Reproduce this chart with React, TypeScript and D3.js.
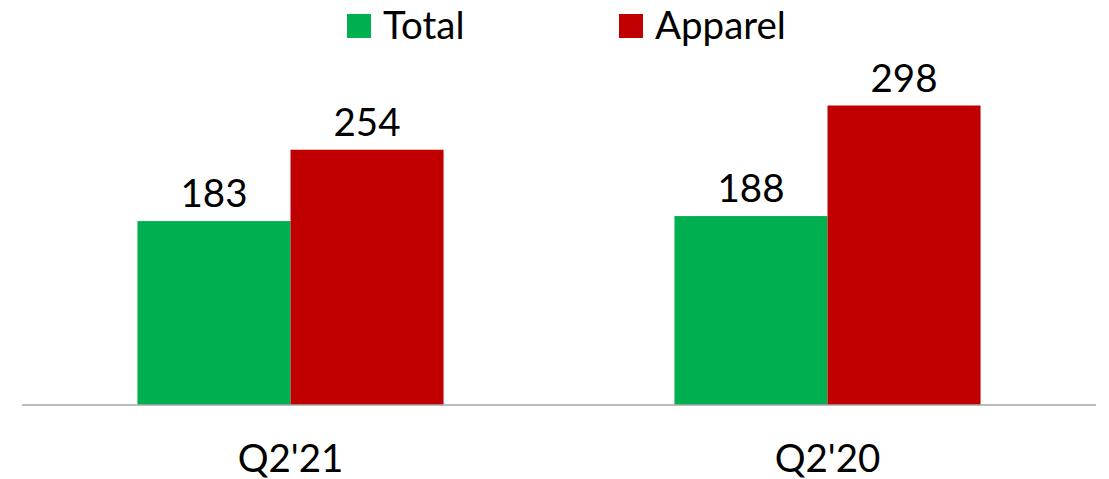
import React from "react";
import * as d3 from "d3";

const categories = ["Q2'21", "Q2'20"];
const seriesNames = ["Total", "Apparel"];
const totalValues = [183, 188];
const apparelValues = [254, 298];
const seriesColors = ["#00B050", "#C00000"];

const W = 1109;
const H = 479;
const FONT = "Lato, 'Open Sans', sans-serif";
const FS = 38.5;

export default function App() {
  const x = d3
    .scaleBand<string>()
    .domain(categories)
    .range([22, 1096])
    .paddingInner(0.43)
    .paddingOuter(0.215);

  const xSub = d3
    .scaleBand<string>()
    .domain(seriesNames)
    .range([0, x.bandwidth()]);

  const y = d3.scaleLinear().domain([0, 400]).range([405, 3]);

  const values = [totalValues, apparelValues];
  // full-width axis line spans the outer range
  const [ax0, ax1] = [22, 1096];

  const legendItems = [
    { name: seriesNames[0], color: seriesColors[0], sq: 347, tx: 383 },
    { name: seriesNames[1], color: seriesColors[1], sq: 619, tx: 655 },
  ];

  return (
    <svg
      width={W}
      height={H}
      style={{ position: "absolute", left: 0, top: 0, display: "block", background: "white" }}
    >
      {legendItems.map((l) => (
        <g key={l.name}>
          <rect x={l.sq} y={14} width={24} height={24} fill={l.color} />
          <text x={l.tx} y={39} fontSize={FS} fontFamily={FONT} fill="#000">
            {l.name}
          </text>
        </g>
      ))}

      {categories.map((c, ci) => (
        <g key={c} transform={`translate(${x(c)},0)`}>
          {seriesNames.map((s, si) => {
            const v = values[si][ci];
            const bx = xSub(s)!;
            return (
              <g key={s}>
                <rect
                  x={bx}
                  y={y(v)}
                  width={xSub.bandwidth()}
                  height={y(0) - y(v)}
                  fill={seriesColors[si]}
                />
                <text
                  x={bx + xSub.bandwidth() / 2}
                  y={y(v) - 14}
                  textAnchor="middle"
                  fontSize={FS}
                  fontFamily={FONT}
                  fill="#000"
                >
                  {v}
                </text>
              </g>
            );
          })}
          <text
            x={x.bandwidth() / 2}
            y={472}
            textAnchor="middle"
            fontSize={FS}
            fontFamily={FONT}
            fill="#000"
          >
            {c}
          </text>
        </g>
      ))}

      <line x1={ax0} x2={ax1} y1={405} y2={405} stroke="#A6A6A6" strokeWidth={1.5} />
    </svg>
  );
}
